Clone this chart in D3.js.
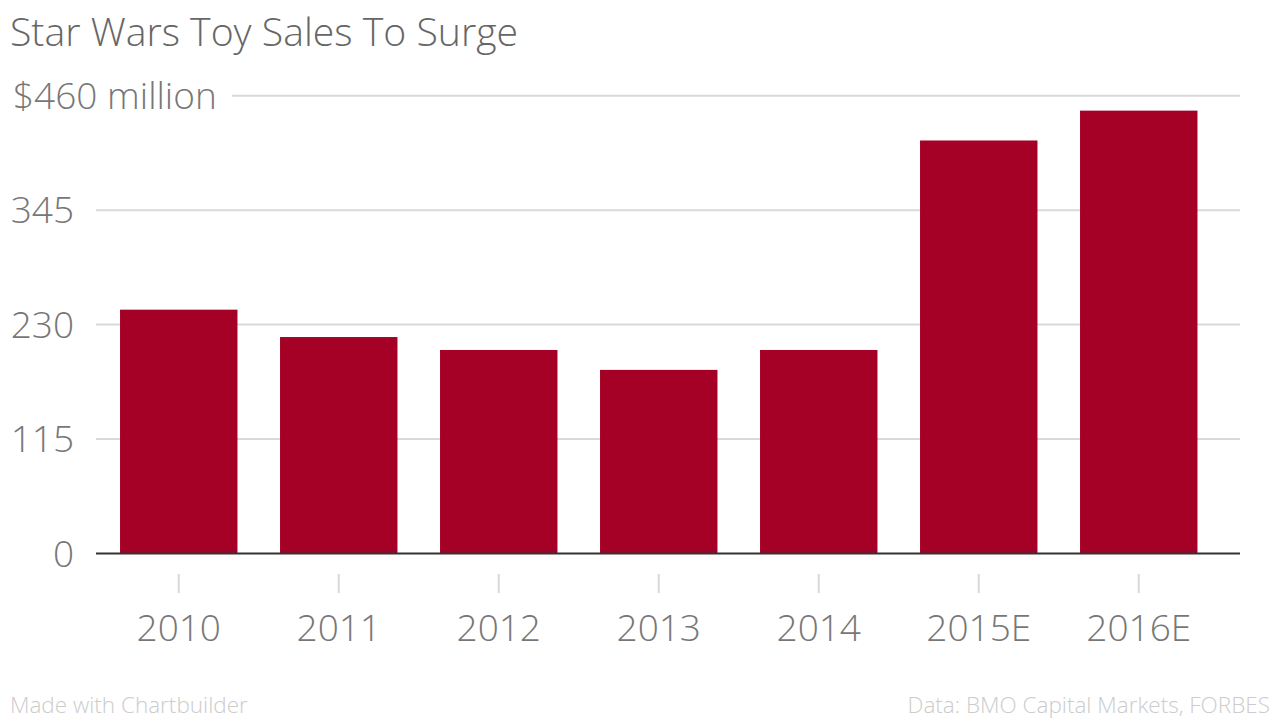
<!DOCTYPE html>
<html>
<head>
<meta charset="utf-8">
<script src="https://cdn.jsdelivr.net/npm/d3@7"></script>
<style>
  body { margin: 0; background: #fff; }
  svg { font-family: "Open Sans", sans-serif; }
</style>
</head>
<body>
<div id="chart"></div>
<script>
// data ($ million)
var years = ["2010", "2011", "2012", "2013", "2014", "2015E", "2016E"];
var sales = [245, 217.5, 204.5, 184.5, 204.5, 415, 445];
var yTicks = [0, 115, 230, 345, 460];

var width = 1280, height = 720;

var svg = d3.select("#chart").append("svg")
    .attr("width", width)
    .attr("height", height);

var x = d3.scaleBand()
    .domain(years)
    .range([98.75, 1218.75])
    .paddingInner(0.266)
    .paddingOuter(0.133);

var y = d3.scaleLinear()
    .domain([0, 460])
    .range([553.5, 95.7]);

// title
svg.append("text")
    .attr("x", 10)
    .attr("y", 46)
    .attr("fill", "#666")
    .style("font-size", "39.2px")
    .style("font-weight", 300)
    .text("Star Wars Toy Sales To Surge");

// gridlines
svg.selectAll("line.grid")
    .data(yTicks.filter(function(d) { return d > 0; }))
    .enter().append("line")
    .attr("class", "grid")
    .attr("x1", function(d) { return d == 460 ? 232 : 96; })
    .attr("x2", 1240)
    .attr("y1", function(d) { return y(d); })
    .attr("y2", function(d) { return y(d); })
    .style("stroke", "#d9d9d9")
    .style("stroke-width", 2);

// y labels
svg.selectAll("text.ylab")
    .data(yTicks)
    .enter().append("text")
    .attr("class", "ylab")
    .attr("x", function(d) { return d == 460 ? 13 : 74; })
    .attr("y", function(d) { return y(d); })
    .attr("dy", "0.36em")
    .attr("text-anchor", function(d) { return d == 460 ? "start" : "end"; })
    .attr("fill", "#777")
    .style("font-size", "37px")
    .style("font-weight", 300)
    .text(function(d) { return d == 460 ? "$460 million" : d; });

// bars
svg.selectAll("rect.bar")
    .data(years)
    .enter().append("rect")
    .attr("class", "bar")
    .attr("x", function(d) { return x(d); })
    .attr("width", x.bandwidth())
    .attr("y", function(d, i) { return y(sales[i]); })
    .attr("height", function(d, i) { return y(0) - y(sales[i]); })
    .attr("fill", "#a50026");

// zero line
svg.append("line")
    .attr("x1", 96).attr("x2", 1240)
    .attr("y1", y(0)).attr("y2", y(0))
    .style("stroke", "#333")
    .style("stroke-width", 2);

// x axis
var xAxis = svg.append("g")
    .attr("transform", "translate(0,574)")
    .call(d3.axisBottom(x).tickSize(19).tickPadding(22));

xAxis.select(".domain").remove();
xAxis.selectAll(".tick line")
    .style("stroke", "#d9d9d9")
    .style("stroke-width", 2);
xAxis.selectAll(".tick text")
    .attr("fill", "#777")
    .style("font-family", "Open Sans, sans-serif")
    .style("font-size", "37px")
    .style("font-weight", 300);

// footer
svg.append("text")
    .attr("x", 10)
    .attr("y", 713)
    .attr("fill", "#ccc")
    .style("font-size", "22.5px")
    .style("font-weight", 300)
    .text("Made with Chartbuilder");

svg.append("text")
    .attr("x", 1270)
    .attr("y", 713)
    .attr("text-anchor", "end")
    .attr("fill", "#ccc")
    .style("font-size", "22.5px")
    .style("font-weight", 300)
    .text("Data: BMO Capital Markets, FORBES");
</script>
</body>
</html>
